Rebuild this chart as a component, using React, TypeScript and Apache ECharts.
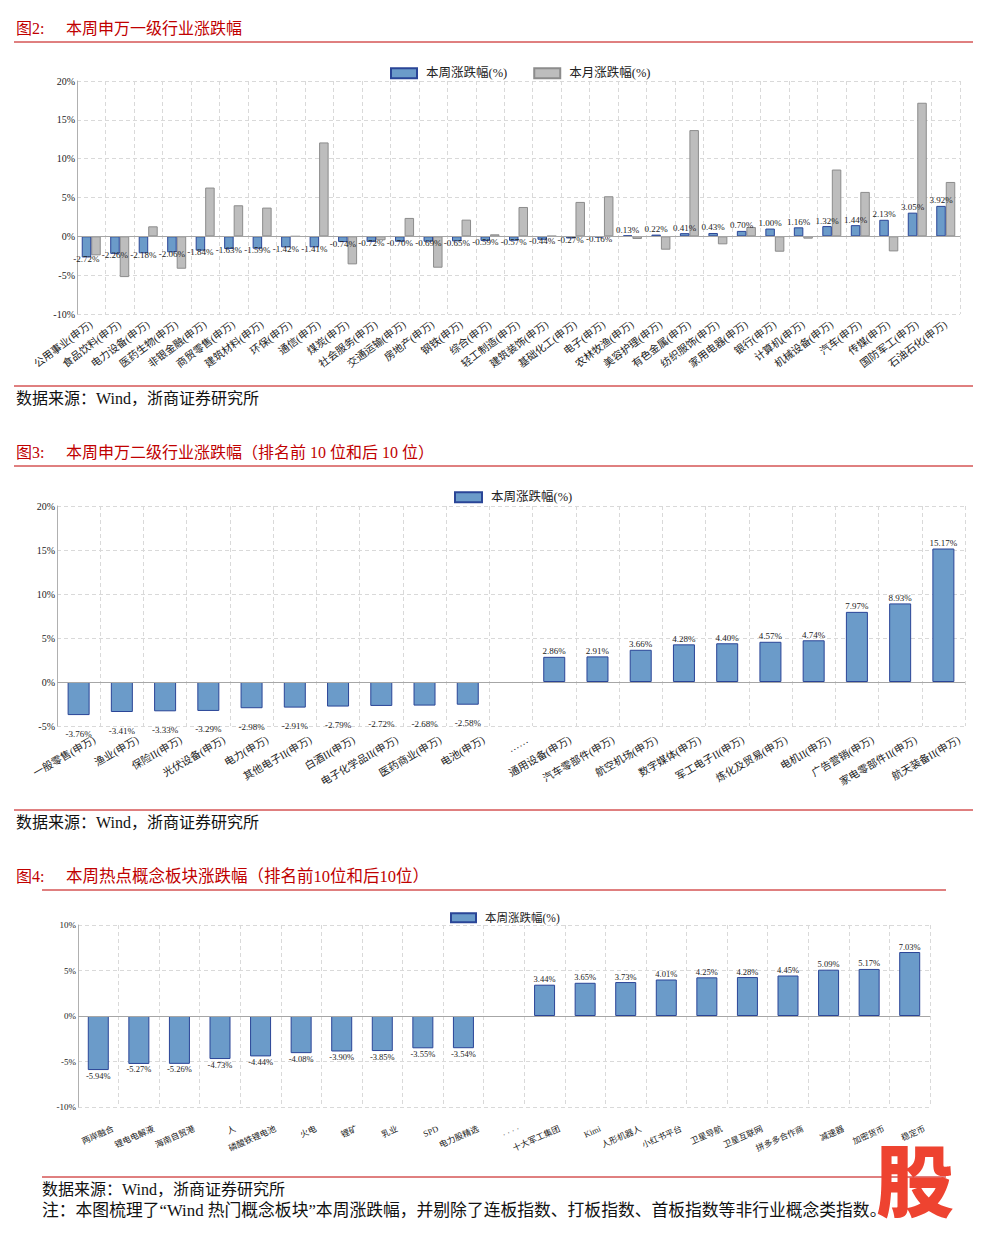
import React, { useEffect, useRef } from "react";
import * as echarts from "echarts";

// ---------- Chart 1 (图2) data ----------
const c1Categories = [
  "公用事业(申万)", "食品饮料(申万)", "电力设备(申万)", "医药生物(申万)", "非银金融(申万)",
  "商贸零售(申万)", "建筑材料(申万)", "环保(申万)", "通信(申万)", "煤炭(申万)",
  "社会服务(申万)", "交通运输(申万)", "房地产(申万)", "钢铁(申万)", "综合(申万)",
  "轻工制造(申万)", "建筑装饰(申万)", "基础化工(申万)", "电子(申万)", "农林牧渔(申万)",
  "美容护理(申万)", "有色金属(申万)", "纺织服饰(申万)", "家用电器(申万)", "银行(申万)",
  "计算机(申万)", "机械设备(申万)", "汽车(申万)", "传媒(申万)", "国防军工(申万)", "石油石化(申万)",
];
const c1Week = [
  -2.72, -2.26, -2.18, -2.06, -1.84, -1.63, -1.59, -1.42, -1.41, -0.74,
  -0.72, -0.7, -0.69, -0.65, -0.59, -0.57, -0.44, -0.27, -0.16, 0.13,
  0.22, 0.41, 0.43, 0.7, 1.0, 1.16, 1.32, 1.44, 2.13, 3.05, 3.92,
];
const c1Month = [
  -2.45, -5.25, 1.29, -4.17, 6.28, 4.0, 3.7, 0.0, 12.09, -3.61,
  -0.5, 2.37, -4.04, 2.15, 0.26, 3.78, 0.05, 4.43, 5.16, -0.34,
  -1.72, 13.68, -1.03, 1.2, -1.98, -0.3, 8.6, 5.72, -1.94, 17.2, 7.0,
];

// ---------- Chart 2 (图3) data ----------
const c2Categories = [
  "一般零售(申万)", "渔业(申万)", "保险II(申万)", "光伏设备(申万)", "电力(申万)",
  "其他电子II(申万)", "白酒II(申万)", "电子化学品II(申万)", "医药商业(申万)", "电池(申万)",
  "……",
  "通用设备(申万)", "汽车零部件(申万)", "航空机场(申万)", "数字媒体(申万)", "军工电子II(申万)",
  "炼化及贸易(申万)", "电机II(申万)", "广告营销(申万)", "家电零部件II(申万)", "航天装备II(申万)",
];
const c2Week = [
  -3.76, -3.41, -3.33, -3.29, -2.98, -2.91, -2.79, -2.72, -2.68, -2.58,
  null,
  2.86, 2.91, 3.66, 4.28, 4.4, 4.57, 4.74, 7.97, 8.93, 15.17,
];

// ---------- Chart 3 (图4) data ----------
const c3Categories = [
  "两岸融合", "锂电电解液", "海南自贸港", "人", "磷酸铁锂电池",
  "火电", "锂矿", "乳业", "SPD", "电力股精选",
  "· · · ·",
  "十大军工集团", "Kimi", "人形机器人", "小红书平台", "卫星导航",
  "卫星互联网", "拼多多合作商", "减速器", "加密货币", "稳定币",
];
const c3Week = [
  -5.94, -5.27, -5.26, -4.73, -4.44, -4.08, -3.9, -3.85, -3.55, -3.54,
  null,
  3.44, 3.65, 3.73, 4.01, 4.25, 4.28, 4.45, 5.09, 5.17, 7.03,
];

const WEEK = "本周涨跌幅(%)";
const MONTH = "本月涨跌幅(%)";

const NUM = "'Liberation Serif','Times New Roman',serif";
const CJK = "'Liberation Serif','Noto Sans CJK SC',serif";
const RED = "#c00000";
const BLUE = { color: "#6b9bc9", borderColor: "#2a4597", borderWidth: 1 };
const GRAY = { color: "#bdbdbd", borderColor: "#8c8c8c", borderWidth: 1 };
const DASH = { type: [4, 3] as any, color: "#d9d9d9", width: 1 };

function withLabels(vals: (number | null)[], negDist: number, posDist: number) {
  return vals.map((v) =>
    v == null
      ? "-"
      : {
          value: v,
          label: { position: v < 0 ? "bottom" : "top", distance: v < 0 ? negDist : posDist },
        }
  );
}

const zeroLine = {
  silent: true,
  symbol: ["none", "none"],
  label: { show: false },
  lineStyle: { color: "#a6a6a6", type: "solid", width: 1 },
  data: [{ yAxis: 0 }],
};

function valueAxis(gridIndex: number, min: number, max: number, fontSize: number, show = true) {
  return {
    type: "value",
    gridIndex,
    min,
    max,
    interval: 5,
    show,
    axisLine: { show: true, lineStyle: { color: "#b0b0b0" } },
    axisTick: { show: false },
    axisLabel: { formatter: "{value}%", fontFamily: NUM, fontSize, color: "#222", margin: 2 },
    splitLine: { show: true, lineStyle: DASH },
  };
}

function gridCatAxis(gridIndex: number, data: string[]) {
  return {
    type: "category",
    gridIndex,
    data,
    position: "bottom",
    axisLine: { show: false, onZero: false },
    axisTick: { show: false },
    axisLabel: { show: false },
    splitLine: { show: true, interval: 0, lineStyle: DASH },
  };
}

function labelCatAxis(gridIndex: number, data: string[], rotate: number, fontSize: number, margin: number) {
  return {
    type: "category",
    gridIndex,
    data,
    position: "bottom",
    axisLine: { show: false, onZero: false },
    axisTick: { show: false },
    splitLine: { show: false },
    axisLabel: { interval: 0, rotate, fontSize, margin, fontFamily: CJK, color: "#222" },
  };
}

const labelFmt = (p: any) => Number(p.value).toFixed(2) + "%";

const textEl = (x: number, y: number, text: string, fontSize: number, fill: string, extra: any = {}) => ({
  type: "text",
  x,
  y,
  style: { text, fontSize, fill, fontFamily: CJK, verticalAlign: "middle", ...extra },
});
const lineEl = (x1: number, x2: number, y: number) => ({
  type: "line",
  shape: { x1, y1: y, x2, y2: y },
  style: { stroke: RED, lineWidth: 1 },
});

const G1 = { left: 77, top: 81, width: 883, height: 233 };
const G2 = { left: 57, top: 506, width: 908, height: 220 };
const G3 = { left: 78, top: 925, width: 852, height: 182 };

const legendBase = {
  icon: "rect",
  selectedMode: false,
  textStyle: { fontFamily: CJK, fontSize: 12.5, color: "#222", padding: [0, 0, 0, 4] },
};

const option: any = {
  animation: false,
  backgroundColor: "#ffffff",
  grid: [
    { ...G1, containLabel: false },
    { ...G2, containLabel: false },
    { ...G2, left: G2.left + 16, containLabel: false },
    { ...G3, containLabel: false },
    { ...G3, left: G3.left + 15, containLabel: false },
  ],
  legend: [
    { ...legendBase, data: [WEEK, MONTH], left: 385, top: 62, itemWidth: 26, itemHeight: 10, itemGap: 26 },
    { ...legendBase, data: [WEEK], left: 449, top: 486, itemWidth: 27, itemHeight: 10 },
    {
      ...legendBase,
      data: [WEEK],
      left: 445,
      top: 907,
      itemWidth: 25,
      itemHeight: 9,
      textStyle: { ...legendBase.textStyle, fontSize: 11.5 },
    },
  ],
  xAxis: [
    {
      type: "category",
      gridIndex: 0,
      data: c1Categories,
      position: "bottom",
      axisLine: { show: false, onZero: false },
      axisTick: { show: false },
      axisLabel: { interval: 0, rotate: 37, fontSize: 10.5, margin: 9, fontFamily: CJK, color: "#222" },
      splitLine: { show: true, interval: 0, lineStyle: DASH },
    },
    gridCatAxis(1, c2Categories),
    labelCatAxis(2, c2Categories, 30, 10.5, 13),
    gridCatAxis(3, c3Categories),
    labelCatAxis(4, c3Categories, 24, 8.5, 21),
  ],
  yAxis: [
    valueAxis(0, -10, 20, 10),
    valueAxis(1, -5, 20, 10),
    valueAxis(2, -5, 20, 10, false),
    valueAxis(3, -10, 10, 9),
    valueAxis(4, -10, 10, 9, false),
  ],
  series: [
    {
      type: "bar",
      name: WEEK,
      xAxisIndex: 0,
      yAxisIndex: 0,
      data: withLabels(c1Week, -3, 1),
      barWidth: 9.5,
      barGap: "0%",
      itemStyle: BLUE,
      label: { show: true, formatter: labelFmt, fontFamily: NUM, fontSize: 9, color: "#222" },
      markLine: zeroLine,
      z: 3,
    },
    {
      type: "bar",
      name: MONTH,
      xAxisIndex: 0,
      yAxisIndex: 0,
      data: c1Month,
      barWidth: 9.5,
      barGap: "0%",
      itemStyle: GRAY,
      z: 2,
    },
    {
      type: "bar",
      name: WEEK,
      xAxisIndex: 1,
      yAxisIndex: 1,
      data: withLabels(c2Week, 14, 1),
      barWidth: 22,
      itemStyle: BLUE,
      label: { show: true, formatter: labelFmt, fontFamily: NUM, fontSize: 9, color: "#222" },
      markLine: zeroLine,
    },
    {
      type: "bar",
      name: WEEK,
      xAxisIndex: 3,
      yAxisIndex: 3,
      data: withLabels(c3Week, 1, 1),
      barWidth: 21,
      itemStyle: BLUE,
      label: { show: true, formatter: labelFmt, fontFamily: NUM, fontSize: 8.5, color: "#222" },
      markLine: zeroLine,
    },
  ],
  graphic: [
    // Figure 2
    textEl(16, 28, "图2:", 16, RED),
    textEl(66, 28, "本周申万一级行业涨跌幅", 16, RED),
    lineEl(14, 973, 42),
    lineEl(14, 973, 386),
    textEl(16, 398, "数据来源：Wind，浙商证券研究所", 16, "#111"),
    // Figure 3
    textEl(16, 452, "图3:", 16, RED),
    textEl(66, 452, "本周申万二级行业涨跌幅（排名前 10 位和后 10 位）", 16, RED),
    lineEl(14, 973, 466),
    lineEl(14, 973, 810),
    textEl(16, 822, "数据来源：Wind，浙商证券研究所", 16, "#111"),
    // Figure 4
    textEl(16, 876, "图4:", 16, RED),
    textEl(66, 876, "本周热点概念板块涨跌幅（排名前10位和后10位）", 16.5, RED),
    lineEl(42, 946, 890),
    lineEl(42, 946, 1177),
    textEl(42, 1189, "数据来源：Wind，浙商证券研究所", 16, "#111"),
    textEl(
      42,
      1210,
      "注：本图梳理了“Wind 热门概念板块”本周涨跌幅，并剔除了连板指数、打板指数、首板指数等非行业概念类指数。",
      16.8,
      "#111"
    ),
    {
      type: "text",
      x: 915,
      y: 1177,
      z: 100,
      style: {
        text: "股",
        fontSize: 78,
        fontWeight: 900,
        fill: "#ee4330",
        fontFamily: "'Noto Sans CJK SC',sans-serif",
        align: "center",
        verticalAlign: "middle",
      },
    },
  ],
};

export default function App() {
  const ref = useRef<HTMLDivElement>(null);
  useEffect(() => {
    const chart = echarts.init(ref.current!, null, { renderer: "svg" });
    chart.setOption(option);
    return () => chart.dispose();
  }, []);
  return (
    <div
      ref={ref}
      style={{ position: "absolute", left: 0, top: 0, width: 982, height: 1236, background: "#fff" }}
    />
  );
}
